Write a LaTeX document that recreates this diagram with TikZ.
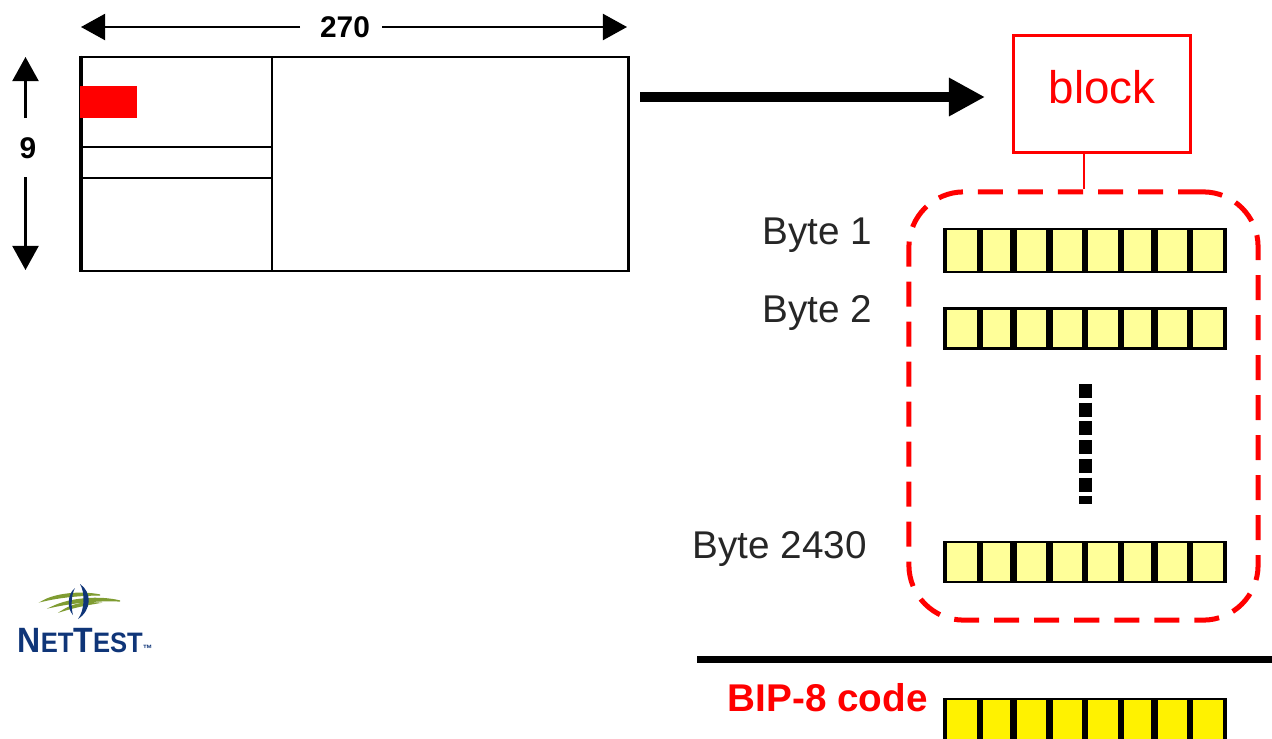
\documentclass[tikz,border=0pt]{standalone}
\usepackage{fontspec}
\setmainfont{Liberation Sans}
\usetikzlibrary{arrows.meta,positioning}
\definecolor{byteyellow}{HTML}{FFFF99}
\definecolor{logoblue}{HTML}{0F3578}
\definecolor{logogreen}{HTML}{7F9C32}
\tikzset{
  framebox/.style={rectangle,draw=black,line width=0.025cm,inner sep=0pt,minimum width=5.47cm,minimum height=2.14cm},
  blockbox/.style={rectangle,draw=red,line width=0.03cm,inner sep=0pt,minimum width=1.76cm,minimum height=1.16cm,text=red,font=\fontsize{13}{13}\selectfont},
  groupbox/.style={rectangle,draw=red,line width=0.05cm,dash pattern=on 0.25cm off 0.15cm,rounded corners=0.55cm,inner sep=0pt,minimum width=3.49cm,minimum height=4.28cm},
  byterow/.style={rectangle,fill=black,inner sep=0pt,minimum width=2.84cm},
  bytecell/.style={rectangle,inner sep=0pt},
  bytelabel/.style={font=\fontsize{11}{11}\selectfont,text=black!85,inner sep=0pt},
  dimlabel/.style={font=\fontsize{8.5}{8.5}\selectfont\bfseries,inner sep=0pt},
  dimarrow/.style={-{Triangle[length=0.24cm,width=0.26cm]},line width=0.02cm},
  swoosh/.style={fill=logogreen,draw=logogreen,line width=0.012cm},
}
\newcommand{\Byterow}[5]{%
  \node (#1) [byterow,minimum height=#3cm] at (1085,#2) {};
  \foreach \i/\x/\w in {1/962/0.30,2/996.5/0.27,3/1031.5/0.29,4/1067.5/0.29,5/1103/0.30,6/1137.5/0.27,7/1172.5/0.29,8/1208/0.30}
    \node (#1\i) [bytecell,fill=#5,minimum width=\w cm,minimum height=#4cm] at (\x,#2) {};
}
\begin{document}
\begin{tikzpicture}[x=0.01cm,y=-0.01cm]
\useasboundingbox (0,0) rectangle (1272,739);
% frame
\node (frame) [framebox] at (355,164) {};
\draw[line width=0.03cm] (frame.north west) -- (frame.south west);
\coordinate (cut) at (272,57);
\coordinate (cutb) at (272,271);
\draw[line width=0.022cm] (cut) -- (cutb);
\coordinate (l1) at (81,147);
\coordinate (l2) at (81,178);
\draw[line width=0.02cm] (l1) -- (l1 -| cut);
\draw[line width=0.02cm] (l2) -- (l2 -| cut);
\node (mark) [rectangle,fill=red,inner sep=0pt,minimum width=0.57cm,minimum height=0.32cm] at (108.5,102) {};
%
\node (w) [dimlabel] at (345,27) {270};
\coordinate (wl) at (81,27);
\coordinate (wr) at (627,27);
\coordinate (wls) at (300,27);
\coordinate (wrs) at (382,27);
\path[dimarrow] (wls) edge (wl);
\path[dimarrow] (wrs) edge (wr);
\node (h) [dimlabel] at (28,148) {9};
\coordinate (ht) at (25.5,57);
\coordinate (hb) at (25.5,270);
\coordinate (hts) at (25.5,118);
\coordinate (hbs) at (25.5,177);
\path[dimarrow] (hts) edge (ht);
\path[dimarrow] (hbs) edge (hb);
%
\coordinate (as) at (640,97);
\coordinate (ae) at (985,97);
\path[-{Triangle[length=0.36cm,width=0.36cm]},line width=0.1cm] (as) edge (ae);
% block
\node (block) [blockbox] at (1102,94) {\raisebox{0.14cm}{block}};
\node (group) [groupbox] at (1083.5,406) {};
\draw[red,line width=0.02cm] (block.south -| group.north) -- (group.north);
%
\node (b1) [bytelabel,anchor=west] at (762,235) {Byte 1};
\node (b2) [bytelabel,anchor=west] at (762,313) {Byte 2};
\node (b3) [bytelabel,anchor=west] at (692,549) {Byte 2430};
\Byterow{r}{250.5}{0.45}{0.40}{byteyellow}
\Byterow{s}{328.5}{0.43}{0.37}{byteyellow}
\Byterow{t}{562}{0.42}{0.38}{byteyellow}
\coordinate (dt) at (1085,384);
\coordinate (db) at (1085,504);
\draw[line width=0.13cm,dash pattern=on 0.14cm off 0.047cm] (dt) -- (db);
%
\coordinate (rl) at (697,659);
\coordinate (rr) at (1272,659);
\draw[line width=0.07cm] (rl) -- (rr);
\node (bip) [anchor=west,inner sep=0pt,text=red,font=\fontsize{11}{11}\selectfont\bfseries] at (727,698) {BIP-8 code};
\Byterow{u}{720}{0.44}{0.40}{yellow}
% logo
\path[swoosh] (43,601) .. controls (55,594) and (80,591) .. (100,595) .. controls (80,595) and (60,597) .. (43,601) -- cycle;
\path[swoosh] (52,607) .. controls (70,598) and (100,596) .. (120,601) .. controls (100,600) and (75,602) .. (52,607) -- cycle;
\path[swoosh] (62,611) .. controls (72,604) and (85,602) .. (97,603) .. controls (85,605) and (75,607) .. (62,611) -- cycle;
\fill[logoblue] (80,584) .. controls (92,592) and (92,610) .. (78,619) .. controls (85,610) and (85,592) .. (80,584) -- cycle;
\fill[logoblue] (75,588) .. controls (67,594) and (67,609) .. (73,615) .. controls (71,608) and (71,595) .. (75,588) -- cycle;
\node (logo) [anchor=base west,inner sep=0pt,text=logoblue,font=\bfseries] at (17,652) {\scalebox{0.91}[1]{\fontsize{10}{10}\selectfont N\fontsize{8}{8}\selectfont ET\fontsize{10}{10}\selectfont T\fontsize{8}{8}\selectfont EST\fontsize{3}{3}\selectfont ™}};
\end{tikzpicture}
\end{document}
